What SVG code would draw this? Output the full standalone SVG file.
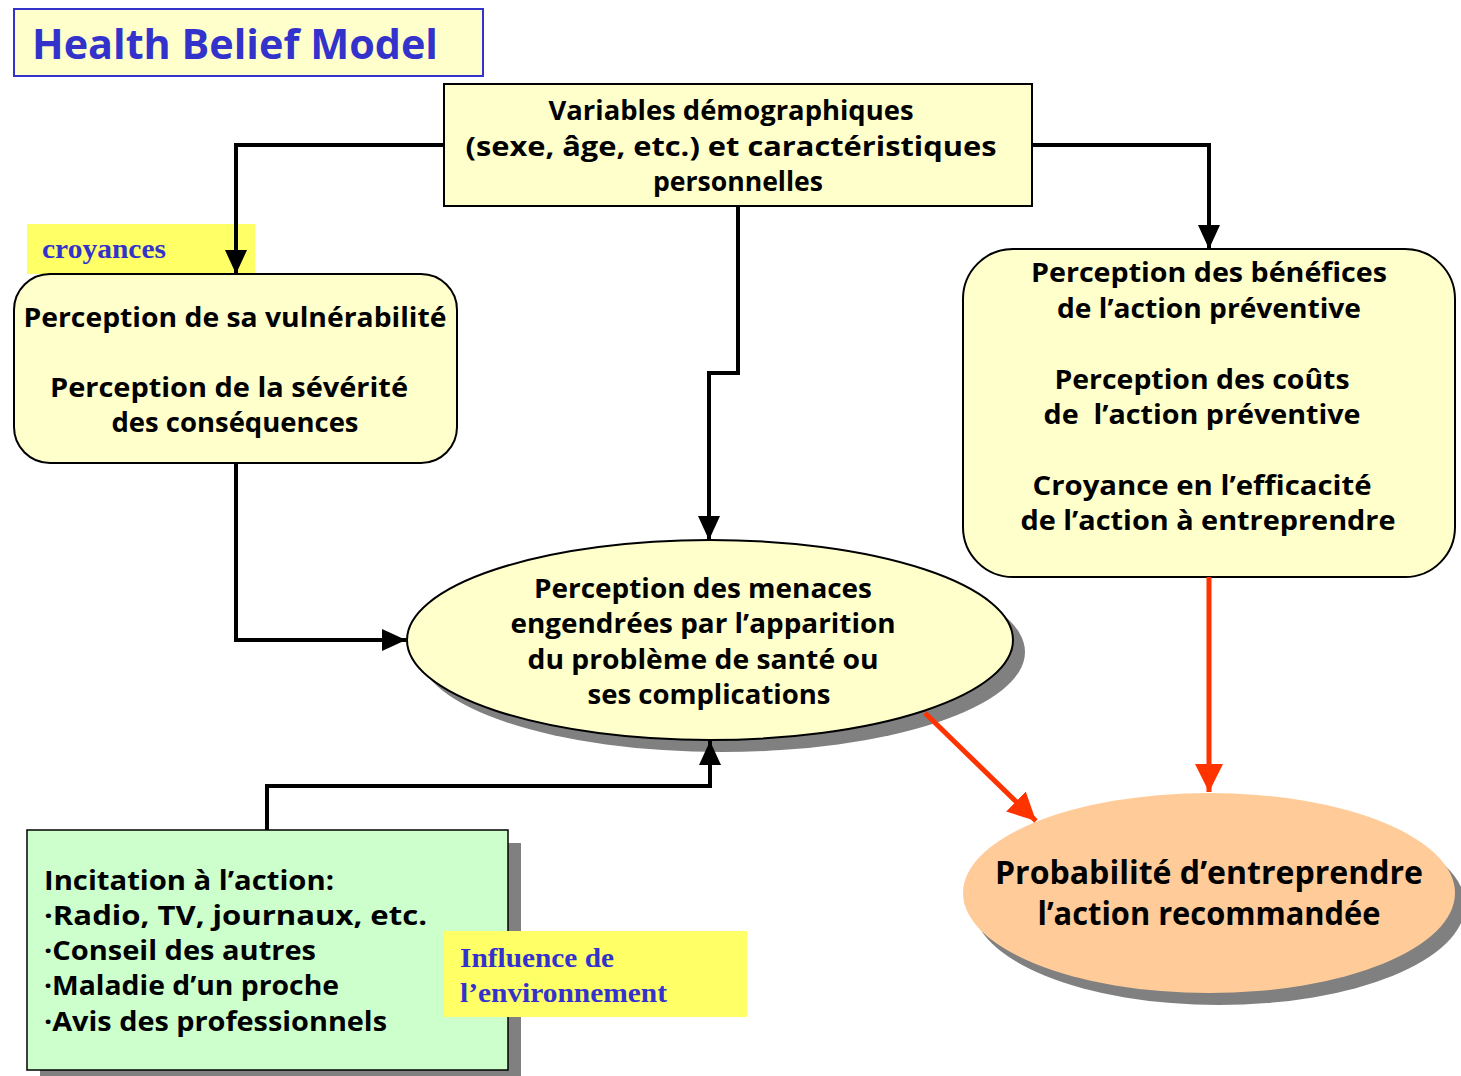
<svg xmlns="http://www.w3.org/2000/svg" width="1461" height="1076" viewBox="0 0 1461 1076">
<style>
.t{font-family:"Open Sans","DejaVu Sans",sans-serif;font-weight:bold;font-size:26px;fill:#000;text-anchor:middle}
.tl{text-anchor:start}
.lab{font-family:"Liberation Serif","Times New Roman",serif;font-weight:bold;font-size:27px;fill:#3333cc}
.node{fill:#ffffcc;stroke:#000;stroke-width:2}
.sh{fill:#808080}
.c{fill:none;stroke:#000;stroke-width:4}
.r{fill:none;stroke:#ff3300;stroke-width:5}
</style>
<defs>
<marker id="ab" markerUnits="userSpaceOnUse" markerWidth="24" markerHeight="22" refX="24" refY="11" orient="auto"><path d="M0,0 L24,11 L0,22 z" fill="#000"/></marker>
<marker id="ar" markerUnits="userSpaceOnUse" markerWidth="28" markerHeight="28" refX="28" refY="14" orient="auto"><path d="M0,0 L28,14 L0,28 z" fill="#ff3300"/></marker>
</defs>
<rect width="1461" height="1076" fill="#fff"/>

<g id="title">
<rect x="14" y="9" width="469" height="67" fill="#ffffcc" stroke="#3333cc" stroke-width="2"/>
<text x="32" y="59" class="t tl" style="font-size:42px;fill:#3333cc" textLength="406" lengthAdjust="spacingAndGlyphs">Health Belief Model</text>
</g>

<g id="demographics">
<rect x="444" y="84" width="588" height="122" class="node" stroke-width="1.5"/>
<text class="t" x="731" y="120" textLength="365" lengthAdjust="spacingAndGlyphs">Variables démographiques</text>
<text class="t" x="731" y="156" textLength="531" lengthAdjust="spacingAndGlyphs">(sexe, âge, etc.) et caractéristiques</text>
<text class="t" x="738" y="191" textLength="170" lengthAdjust="spacingAndGlyphs">personnelles</text>
</g>

<g id="croyances">
<rect x="27" y="224" width="228" height="50" fill="#ffff66"/>
<text class="lab" x="42" y="258" textLength="124" lengthAdjust="spacingAndGlyphs">croyances</text>
</g>

<g id="vulnerability">
<rect x="14" y="274" width="443" height="189" rx="36" ry="36" class="node"/>
<text class="t" x="235" y="327" textLength="423" lengthAdjust="spacingAndGlyphs">Perception de sa vulnérabilité</text>
<text class="t" x="229" y="397" textLength="358" lengthAdjust="spacingAndGlyphs">Perception de la sévérité</text>
<text class="t" x="235" y="432" textLength="247" lengthAdjust="spacingAndGlyphs">des conséquences</text>
</g>

<g id="benefits">
<rect x="963" y="249" width="492" height="328" rx="50" ry="50" class="node"/>
<text class="t" x="1209" y="282" textLength="356" lengthAdjust="spacingAndGlyphs">Perception des bénéfices</text>
<text class="t" x="1209" y="318" textLength="304" lengthAdjust="spacingAndGlyphs">de l’action préventive</text>
<text class="t" x="1202" y="389" textLength="295" lengthAdjust="spacingAndGlyphs">Perception des coûts</text>
<text class="t" x="1202" y="424" textLength="317" lengthAdjust="spacingAndGlyphs" style="white-space:pre" xml:space="preserve">de  l’action préventive</text>
<text class="t" x="1202" y="495" textLength="339" lengthAdjust="spacingAndGlyphs">Croyance en l’efficacité</text>
<text class="t" x="1208" y="530" textLength="375" lengthAdjust="spacingAndGlyphs">de l’action à entreprendre</text>
</g>

<g id="threat">
<ellipse cx="722" cy="652" rx="303" ry="100" class="sh"/>
<ellipse cx="710" cy="640" rx="303" ry="100" class="node" stroke-width="1.5"/>
<text class="t" x="703" y="598" textLength="338" lengthAdjust="spacingAndGlyphs">Perception des menaces</text>
<text class="t" x="703" y="633" textLength="385" lengthAdjust="spacingAndGlyphs">engendrées par l’apparition</text>
<text class="t" x="703" y="669" textLength="351" lengthAdjust="spacingAndGlyphs">du problème de santé ou</text>
<text class="t" x="709" y="704" textLength="243" lengthAdjust="spacingAndGlyphs">ses complications</text>
</g>

<g id="probability">
<ellipse cx="1219" cy="905" rx="246" ry="100" class="sh"/>
<ellipse cx="1209" cy="893" rx="246" ry="100" fill="#ffcc99"/>
<text class="t" x="1209" y="884" style="font-size:33px" textLength="428" lengthAdjust="spacingAndGlyphs">Probabilité d’entreprendre</text>
<text class="t" x="1209" y="925" style="font-size:33px" textLength="343" lengthAdjust="spacingAndGlyphs">l’action recommandée</text>
</g>

<g id="cues">
<rect x="40" y="843" width="481" height="240" class="sh"/>
<rect x="27" y="830" width="481" height="240" fill="#ccffcc" stroke="#000" stroke-width="1.5"/>
<text class="t tl" x="44" y="890" textLength="290" lengthAdjust="spacingAndGlyphs">Incitation à l’action:</text>
<text class="t tl" x="44" y="925" textLength="383" lengthAdjust="spacingAndGlyphs">·Radio, TV, journaux, etc.</text>
<text class="t tl" x="44" y="960" textLength="272" lengthAdjust="spacingAndGlyphs">·Conseil des autres</text>
<text class="t tl" x="44" y="995" textLength="295" lengthAdjust="spacingAndGlyphs">·Maladie d’un proche</text>
<text class="t tl" x="44" y="1031" textLength="343" lengthAdjust="spacingAndGlyphs">·Avis des professionnels</text>
</g>

<g id="environment">
<rect x="444" y="931" width="303" height="86" fill="#ffff66"/>
<text class="lab" x="460" y="967" textLength="154" lengthAdjust="spacingAndGlyphs">Influence de</text>
<text class="lab" x="460" y="1002" textLength="207" lengthAdjust="spacingAndGlyphs">l’environnement</text>
</g>

<g id="connectors">
<path class="c" d="M444,145 H236 V274" marker-end="url(#ab)"/>
<path class="c" d="M1032,145 H1209 V249" marker-end="url(#ab)"/>
<path class="c" d="M738,206 V373 H709 V540" marker-end="url(#ab)"/>
<path class="c" d="M236,463 V640 H406" marker-end="url(#ab)"/>
<path class="c" d="M267,830 V786 H710 V741" marker-end="url(#ab)"/>
<path class="r" d="M925,713 L1036,821" marker-end="url(#ar)"/>
<path class="r" d="M1209,577 V792" marker-end="url(#ar)"/>
</g>
</svg>
